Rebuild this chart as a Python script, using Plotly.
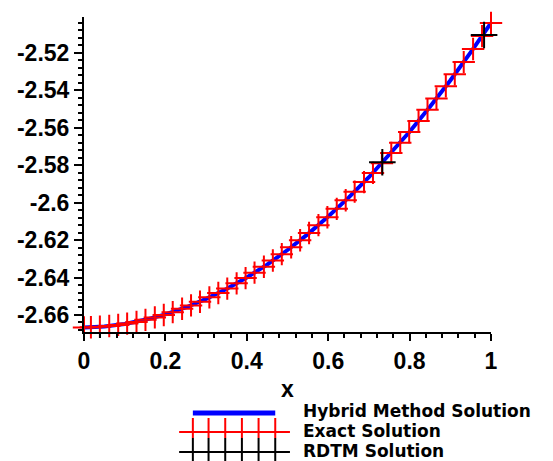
import plotly.graph_objects as go

# ---- data ----
exact_x = [0.0, 0.017, 0.039, 0.062, 0.084, 0.106, 0.129, 0.151, 0.174, 0.196, 0.218,
           0.241, 0.263, 0.285, 0.308, 0.330, 0.352, 0.375, 0.397, 0.419, 0.442, 0.464,
           0.486, 0.509, 0.531, 0.553, 0.576, 0.598, 0.621, 0.643, 0.665, 0.688, 0.710,
           0.732, 0.755, 0.777, 0.799, 0.822, 0.844, 0.866, 0.889, 0.911, 0.933, 0.956,
           0.978, 1.0]
exact_y = [-2.6667, -2.6666, -2.6663, -2.6659, -2.6653, -2.6646, -2.6637, -2.6626, -2.6613,
           -2.6600, -2.6585, -2.6567, -2.6549, -2.6529, -2.6506, -2.6483, -2.6459, -2.6431,
           -2.6403, -2.6374, -2.6342, -2.6309, -2.6275, -2.6238, -2.6201, -2.6162, -2.6120,
           -2.6078, -2.6033, -2.5987, -2.5941, -2.5890, -2.5841, -2.5789, -2.5734, -2.5680,
           -2.5623, -2.5563, -2.5504, -2.5443, -2.5378, -2.5314, -2.5249, -2.5179, -2.5110,
           -2.5040]

hybrid_x = [0.0, 0.05, 0.1, 0.15, 0.2, 0.25, 0.3, 0.35, 0.4, 0.45, 0.5, 0.55, 0.6, 0.65,
            0.7, 0.75, 0.8, 0.85, 0.9, 0.95, 1.0]
hybrid_y = [-2.6667, -2.6661, -2.6648, -2.6626, -2.6597, -2.6560, -2.6514, -2.6461, -2.6400,
            -2.6331, -2.6253, -2.6168, -2.6074, -2.5973, -2.5864, -2.5746, -2.5621, -2.5488,
            -2.5347, -2.5197, -2.5040]

rdtm_x = [0.733, 0.983]
rdtm_y = [-2.5784, -2.5104]

x_tick_vals = [0, 0.2, 0.4, 0.6, 0.8, 1]
x_tick_text = ["0", "0.2", "0.4", "0.6", "0.8", "1"]
y_tick_vals = [-2.66, -2.64, -2.62, -2.60, -2.58, -2.56, -2.54, -2.52]
y_tick_text = ["-2.66", "-2.64", "-2.62", "-2.6", "-2.58", "-2.56", "-2.54", "-2.52"]

legend_names = ["Hybrid Method Solution", "Exact Solution", "RDTM Solution"]

# ---- layout geometry (page pixels); page body has an 8px margin ----
OFF = 8
PW, PH = 553, 461
W, H = PW - OFF, PH - OFF
L, R, T, B = 76, 491, 17, 332


def px(xp):
    return (xp - L) / (R - L)


def py(yp):
    return (B - yp) / (B - T)


FONT = "Liberation Sans, Arial, sans-serif"
LEG_FONT = "DejaVu Sans, Liberation Sans, sans-serif"

fig = go.Figure()
fig.add_trace(go.Scatter(x=hybrid_x, y=hybrid_y, mode="lines",
                         line=dict(color="#0000ff", width=4),
                         name=legend_names[0], showlegend=False, cliponaxis=False))
fig.add_trace(go.Scatter(x=exact_x, y=exact_y, mode="markers",
                         marker=dict(symbol="cross-thin", size=16,
                                     line=dict(color="#ff0000", width=2)),
                         name=legend_names[1], showlegend=False, cliponaxis=False))
fig.add_trace(go.Scatter(x=rdtm_x, y=rdtm_y, mode="markers",
                         marker=dict(symbol="cross-thin", size=19,
                                     line=dict(color="#000000", width=2)),
                         name=legend_names[2], showlegend=False, cliponaxis=False))

shapes = []
# blue legend sample
shapes.append(dict(type="line", xref="paper", yref="paper",
                   x0=px(187), x1=px(271), y0=py(413), y1=py(413),
                   line=dict(color="#0000ff", width=5)))
# black legend sample
shapes.append(dict(type="line", xref="paper", yref="paper",
                   x0=px(173), x1=px(286), y0=py(452), y1=py(452),
                   line=dict(color="#000000", width=2)))
for xv in [187, 203, 220, 237, 254, 271]:
    shapes.append(dict(type="line", xref="paper", yref="paper",
                       x0=px(xv), x1=px(xv), y0=py(438), y1=py(462),
                       line=dict(color="#000000", width=2)))
# red legend sample
shapes.append(dict(type="line", xref="paper", yref="paper",
                   x0=px(173), x1=px(286), y0=py(432), y1=py(432),
                   line=dict(color="#ff0000", width=2)))
for xv in [187, 203, 220, 237, 254, 271]:
    shapes.append(dict(type="line", xref="paper", yref="paper",
                       x0=px(xv), x1=px(xv), y0=py(418), y1=py(438),
                       line=dict(color="#ff0000", width=2)))

annotations = []
for name, yv in zip(legend_names, [411, 431, 451]):
    annotations.append(dict(text=name, xref="paper", yref="paper",
                            x=px(297), y=py(yv), xanchor="left", yanchor="middle",
                            showarrow=False,
                            font=dict(family=LEG_FONT, size=17, color="black", weight="bold")))

tickfont = dict(family=FONT, size=23, color="black", weight="bold")

fig.update_layout(
    width=W, height=H,
    margin=dict(l=L - OFF, r=PW - R, t=T - OFF, b=PH - B, pad=0),
    paper_bgcolor="white", plot_bgcolor="white",
    showlegend=False,
    shapes=shapes, annotations=annotations,
    xaxis=dict(range=[0, 1], tickmode="array", tickvals=x_tick_vals, ticktext=x_tick_text,
               showgrid=False, zeroline=False, showline=True, linecolor="black", linewidth=2,
               ticks="outside", ticklen=7, tickwidth=2, tickcolor="black",
               tickfont=tickfont,
               minor=dict(tickmode="linear", tick0=0, dtick=0.04, ticks="outside",
                          ticklen=4, tickwidth=2, tickcolor="black", showgrid=False),
               title=dict(text="x", font=dict(family=FONT, size=23, color="black",
                                              weight="bold"), standoff=8)),
    yaxis=dict(range=[-2.6691, -2.5008], tickmode="array", tickvals=y_tick_vals,
               ticktext=y_tick_text,
               showgrid=False, zeroline=False, showline=True, linecolor="black", linewidth=2,
               ticks="outside", ticklen=8, tickwidth=2, tickcolor="black",
               tickfont=tickfont,
               minor=dict(tickmode="linear", tick0=-2.52, dtick=0.004, ticks="outside",
                          ticklen=4, tickwidth=2, tickcolor="black", showgrid=False)),
)

fig.write_html("out.html")
